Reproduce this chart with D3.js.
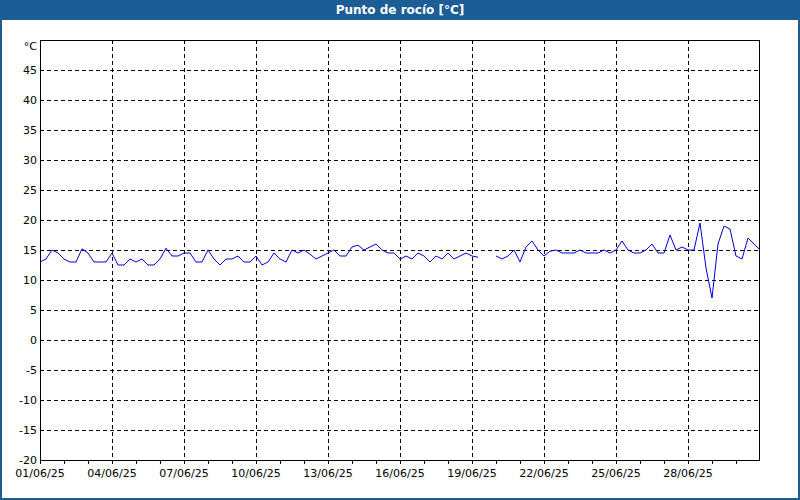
<!DOCTYPE html><html><head><meta charset="utf-8"><script src="https://cdn.jsdelivr.net/npm/d3@7"></script>
<style>body{margin:0}svg{display:block;font-family:Tahoma,"DejaVu Sans",sans-serif}</style></head><body><svg width="800" height="500"></svg>
<script>
const title = "Punto de rocío [°C]";
const yTicks = [-20,-15,-10,-5,0,5,10,15,20,25,30,35,40,45];
const xTickLabels = ["01/06/25","04/06/25","07/06/25","10/06/25","13/06/25","16/06/25","19/06/25","22/06/25","25/06/25","28/06/25"];
// dew point every 6 hours from 01/06 00:00
const values = [
13,13.5,15,14.5, 13.5,13,13,15.2, 14.5,13,13,13, 14.5,12.5,12.5,13.5, 13,13.5,12.5,12.5,
13.5,15.3,14,14, 14.5,14.5,13,13, 15,13.5,12.5,13.5, 13.5,14,13,13, 14,12.5,13,14.5,
13.5,13,15,14.5, 15,14.3,13.5,14, 14.5,15,14,14, 15.5,15.8,15,15.5, 16,15,14.5,14.5,
13.5,14,13.5,14.5, 14,13,14,13.5, 14.5,13.5,14,14.5, 14,13.8,null,null, 14,13.5,14,15,
13,15.5,16.5,15, 14,14.8,15,14.5, 14.5,14.5,15,14.5, 14.5,14.5,15,14.5, 15,16.5,15,14.5,
14.5,15,16,14.5, 14.5,17.5,15,15.5, 15,15,19.5,12, 7,16,19,18.5, 14,13.5,17,16, 15];
const svg = d3.select("svg");
svg.append("rect").attr("x",1).attr("y",1).attr("width",798).attr("height",498).attr("fill","#fff").attr("stroke","#1c5d96").attr("stroke-width",2);
svg.append("rect").attr("width",800).attr("height",20).attr("fill","#1c5d96");
svg.append("text").attr("x",400).attr("y",14).attr("text-anchor","middle").attr("fill","#fff").attr("font-weight","bold").attr("font-size",12).text(title);
const L=40,R=760,T=40,B=460;
const t0 = new Date(2025,5,1);
const x = d3.scaleTime().domain([t0,new Date(2025,6,1)]).range([L,R]);
const y = d3.scaleLinear().domain([-20,50]).range([B,T]);
const pts = values.map((v,i)=>({t:new Date(t0.getTime()+i*6*3600e3),v}));
const days = d3.timeDay.range(t0,new Date(2025,6,1));
const major = days.filter((d,i)=>i%3===0);
const g = svg.append("g");
g.selectAll(".hg").data(yTicks.slice(1)).join("line").attr("x1",L).attr("x2",R).attr("y1",d=>Math.round(y(d))+.5).attr("y2",d=>Math.round(y(d))+.5).attr("stroke","#000").attr("stroke-dasharray","4,3");
g.selectAll(".vg").data(major.slice(1)).join("line").attr("x1",d=>Math.round(x(d))+.5).attr("x2",d=>Math.round(x(d))+.5).attr("y1",T).attr("y2",B).attr("stroke","#000").attr("stroke-dasharray","4,3");
svg.append("rect").attr("x",L+.5).attr("y",T+.5).attr("width",R-L-1).attr("height",B-T).attr("fill","none").attr("stroke","#000");
svg.append("g").attr("transform",`translate(0,${B})`).call(d3.axisBottom(x).tickValues(days).tickSize(4).tickFormat("")).call(a=>a.select(".domain").remove());
svg.append("g").selectAll("text").data(major).join("text").attr("x",d=>x(d)).attr("y",B+17).attr("text-anchor","middle").attr("font-size",11).text((d,i)=>xTickLabels[i]);
svg.append("g").selectAll("text").data(yTicks).join("text").attr("x",L-3).attr("y",d=>y(d)+4).attr("text-anchor","end").attr("font-size",11).text(d=>d);
svg.append("text").attr("x",L-3).attr("y",T+10).attr("text-anchor","end").attr("font-size",11).text("°C");
svg.append("path").datum(pts).attr("fill","none").attr("stroke","#0000e0").attr("stroke-width",1)
 .attr("d",d3.line().defined(d=>d.v!=null).x(d=>x(d.t)).y(d=>y(d.v)));
</script></body></html>
